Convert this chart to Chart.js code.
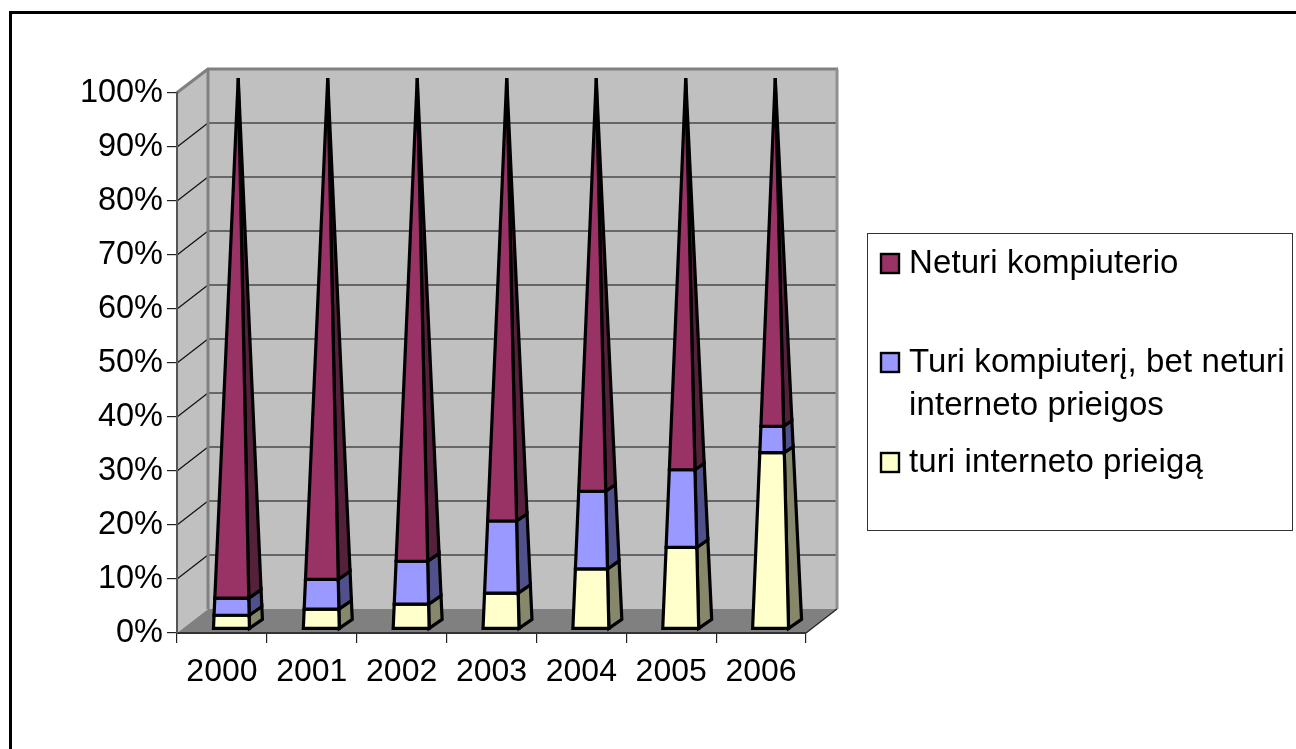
<!DOCTYPE html>
<html><head><meta charset="utf-8">
<style>html,body{margin:0;padding:0;background:#fff}canvas{display:block}</style>
<script src="https://cdn.jsdelivr.net/npm/chart.js@4"></script>
</head><body>
<canvas id="c" width="1296" height="749"></canvas>
<script>
const years = ['2000','2001','2002','2003','2004','2005','2006'];
const internetAccess = [2.5,3.6,4.5,6.5,10.9,14.8,32.0];
const computerNoInternet = [3.1,5.4,7.8,13.1,14.1,14.1,4.8];
const noComputer = [94.4,91.0,87.7,80.4,75.0,71.1,63.2];
const seriesNames = ['turi interneto prieigą','Turi kompiuterį, bet neturi interneto prieigos','Neturi kompiuterio'];
const legendLines = [['Neturi kompiuterio'],['Turi kompiuterį, bet neturi','interneto prieigos'],['turi interneto prieigą']];

const FONT = '"Liberation Sans", Arial, sans-serif';
const DX = 31, DY = 24;                 // depth of the 3D box
const FACE = ['#FFFFCC','#9999FF','#993366'];
const SIDE = ['#87876C','#50508A','#552039'];

function poly(ctx, pts, fill, stroke, lw){
  ctx.beginPath();
  pts.forEach((p,i)=> i?ctx.lineTo(p[0],p[1]):ctx.moveTo(p[0],p[1]));
  ctx.closePath();
  if(fill){ctx.fillStyle=fill;ctx.fill();}
  if(stroke){ctx.strokeStyle=stroke;ctx.lineWidth=lw;ctx.lineJoin='miter';ctx.miterLimit=30;ctx.stroke();}
}
function line(ctx,x1,y1,x2,y2,c,w){
  ctx.beginPath();ctx.moveTo(x1,y1);ctx.lineTo(x2,y2);ctx.strokeStyle=c;ctx.lineWidth=w;ctx.stroke();
}

const box3d = {
  id:'box3d',
  beforeDraw(chart){
    const {ctx,scales:{x,y}} = chart;
    const L=x.left,R=x.right,T=y.top,B=y.bottom;
    ctx.save();
    // page frame (top and left only)
    ctx.fillStyle='#000';
    ctx.fillRect(9,11,1287,3);
    ctx.fillRect(9,11,3,738);
    // walls and floor
    poly(ctx,[[L,T],[L+DX,T-DY],[L+DX,B-DY],[L,B]],'#C0C0C0');
    poly(ctx,[[L+DX,T-DY],[R+DX,T-DY],[R+DX,B-DY],[L+DX,B-DY]],'#C0C0C0');
    poly(ctx,[[L,B],[L+DX,B-DY],[R+DX,B-DY],[R,B]],'#808080');
    // gridlines
    y.ticks.forEach(t=>{
      const p=y.getPixelForValue(t.value);
      if(t.value>0 && t.value<100) line(ctx,L+DX,p-DY,R+DX,p-DY,'#4a4a4a',1.6);
      if(t.value>0 && t.value<100) line(ctx,L,p,L+DX,p-DY,'#111',1.2);
    });
    // wall edges
    line(ctx,L+DX,T-DY,L+DX,B-DY,'#808080',3);
    line(ctx,L-0.5,T,L+DX,T-DY,'#808080',3);
    line(ctx,L+DX-1,T-DY,R+DX+1,T-DY,'#808080',3);
    line(ctx,R+DX,T-DY,R+DX,B-DY,'#909090',3);
    line(ctx,R,B,R+DX,B-DY,'#222',1.2);
    ctx.restore();
  },
  beforeDatasetDraw(){ return false; },
  afterDatasetsDraw(chart){
    const {ctx,scales:{y}} = chart;
    const y0=y.getPixelForValue(0), y100=y.getPixelForValue(100);
    const span=y0-y100;
    ctx.save();
    years.forEach((_,i)=>{
      chart.data.datasets.forEach((ds,d)=>{
        const el=chart.getDatasetMeta(d).data[i];
        const f0=(y0-el.base)/span, f1=(y0-el.y)/span;
        const cx=el.x+9.5, by=y0-4;
        const ax=238.3+(el.x-222)*0.996, ay=y100-15;
        const at=(px,py,f)=>[px+(ax-px)*f,py+(ay-py)*f];
        const fl=[cx-18,by],fr=[cx+18,by],br=[cx+31,by-9];
        poly(ctx,[at(...fr,f0),at(...br,f0),at(...br,f1),at(...fr,f1)],SIDE[d],'#000',3.2);
        poly(ctx,[at(...fl,f0),at(...fr,f0),at(...fr,f1),at(...fl,f1)],FACE[d],'#000',3.2);
      });
    });
    ctx.restore();
  },
  afterDraw(chart){
    const {ctx}=chart;
    ctx.save();
    // legend box
    ctx.fillStyle='#fff';ctx.fillRect(867.5,233.5,425,297);
    ctx.strokeStyle='#333';ctx.lineWidth=1;ctx.strokeRect(867.5,233.5,425,297);
    const swY=[254,353,453], baseY=[[273],[372,415],[472]];
    const order=[2,1,0];
    ctx.font='33px '+FONT;ctx.textAlign='left';ctx.textBaseline='alphabetic';
    ctx.letterSpacing='0.1px';
    order.forEach((d,k)=>{
      ctx.fillStyle=FACE[d];ctx.strokeStyle='#000';ctx.lineWidth=2.4;
      ctx.fillRect(881,swY[k],18,19);ctx.strokeRect(881,swY[k],18,19);
      ctx.fillStyle='#000';
      legendLines[k].forEach((t,j)=>ctx.fillText(t,909,baseY[k][j]));
    });
    ctx.restore();
  }
};

new Chart(document.getElementById('c'),{
  type:'bar',
  data:{labels:years,datasets:[
    {label:seriesNames[0],data:internetAccess,backgroundColor:FACE[0],borderColor:'#000'},
    {label:seriesNames[1],data:computerNoInternet,backgroundColor:FACE[1],borderColor:'#000'},
    {label:seriesNames[2],data:noComputer,backgroundColor:FACE[2],borderColor:'#000'}
  ]},
  options:{
    responsive:false,animation:false,
    layout:{padding:{left:0,top:93,right:490,bottom:0},autoPadding:false},
    plugins:{legend:{display:false},title:{display:false},tooltip:{enabled:false}},
    scales:{
      x:{stacked:true,
        afterFit(s){s.height=749-633;},
        grid:{display:true,drawOnChartArea:false,drawTicks:true,tickLength:10,color:'#222',lineWidth:1.2},
        border:{display:true,color:'#333',width:2},
        ticks:{color:'#000',font:{family:FONT,size:32},padding:10,maxRotation:0,autoSkip:false}},
      y:{stacked:true,min:0,max:100,
        afterFit(s){s.width=177;},
        grid:{display:true,drawOnChartArea:false,drawTicks:true,tickLength:10,color:'#222',lineWidth:1.2},
        border:{display:true,color:'#555',width:2},
        ticks:{stepSize:10,color:'#000',font:{family:FONT,size:32.5},padding:4,callback:v=>v+'%'}}
    }
  },
  plugins:[box3d]
});
</script>
</body></html>
